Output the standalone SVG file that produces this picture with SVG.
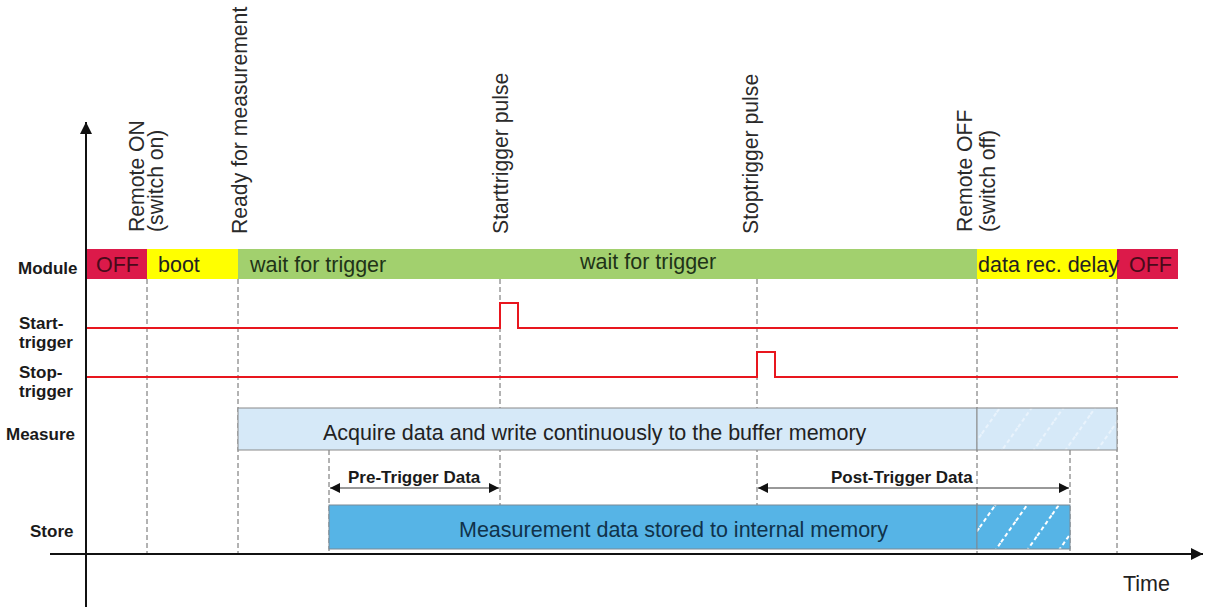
<svg xmlns="http://www.w3.org/2000/svg" width="1205" height="607" viewBox="0 0 1205 607">
<style>
.lbl{font-family:"Liberation Sans",Arial,sans-serif;font-size:17px;font-weight:bold;fill:#1a1a1a}
.t{font-family:"Liberation Sans",Arial,sans-serif;font-size:21.5px;fill:#222}
.rt{font-family:"Liberation Sans",Arial,sans-serif;font-size:21.2px;fill:#2a2a2a}
.dash{stroke:#666;stroke-width:1;stroke-dasharray:5,3;fill:none}
.sig{stroke:#e8161e;stroke-width:2;fill:none}
.axis{stroke:#111;stroke-width:2;fill:none}
.dim{stroke:#333;stroke-width:1;fill:none}
</style>
<defs>
<marker id="ah" viewBox="0 0 10 10" refX="10" refY="5" markerWidth="14" markerHeight="10" markerUnits="userSpaceOnUse" orient="auto-start-reverse"><path d="M0,0 L10,5 L0,10 z" fill="#111"/></marker>
<marker id="axh" viewBox="0 0 10 10" refX="10" refY="5" markerWidth="16" markerHeight="12" markerUnits="userSpaceOnUse" orient="auto"><path d="M0,0 L10,5 L0,10 z" fill="#111"/></marker>
<pattern id="hatchStore" patternUnits="userSpaceOnUse" width="26" height="26" patternTransform="rotate(-55)">
<rect width="26" height="26" fill="#56b4e6"/>
<line x1="0" y1="13" x2="26" y2="13" stroke="#fff" stroke-width="2" stroke-dasharray="4,3"/>
</pattern>
<pattern id="hatchMeas" patternUnits="userSpaceOnUse" width="26" height="26" patternTransform="rotate(-55)">
<rect width="26" height="26" fill="#d6e9f8"/>
<line x1="0" y1="13" x2="26" y2="13" stroke="#e9f3fc" stroke-width="2" stroke-dasharray="4,3"/>
</pattern>
</defs>
<rect width="1205" height="607" fill="#fff"/>

<g id="guides">
<line class="dash" x1="147" y1="279" x2="147" y2="554"/>
<line class="dash" x1="238" y1="279" x2="238" y2="554"/>
<line class="dash" x1="329" y1="450" x2="329" y2="554"/>
<line class="dash" x1="500" y1="279" x2="500" y2="505"/>
<line class="dash" x1="757" y1="279" x2="757" y2="505"/>
<line class="dash" x1="977" y1="279" x2="977" y2="554"/>
<line class="dash" x1="1070" y1="450" x2="1070" y2="554"/>
<line class="dash" x1="1117" y1="279" x2="1117" y2="554"/>
</g>

<g id="row-labels">
<text class="lbl" x="18" y="274">Module</text>
<text class="lbl" x="19" y="329">Start-</text>
<text class="lbl" x="19" y="348">trigger</text>
<text class="lbl" x="19" y="378">Stop-</text>
<text class="lbl" x="19" y="397">trigger</text>
<text class="lbl" x="6" y="440">Measure</text>
<text class="lbl" x="30" y="537">Store</text>
</g>

<g id="event-labels">
<text class="rt" transform="translate(144,232) rotate(-90)">Remote ON</text>
<text class="rt" transform="translate(163,232) rotate(-90)">(switch on)</text>
<text class="rt" transform="translate(247,234) rotate(-90)">Ready for measurement</text>
<text class="rt" transform="translate(508,234) rotate(-90)">Starttrigger pulse</text>
<text class="rt" transform="translate(758,234) rotate(-90)">Stoptrigger pulse</text>
<text class="rt" transform="translate(972,232) rotate(-90)">Remote OFF</text>
<text class="rt" transform="translate(995,232) rotate(-90)">(switch off)</text>
</g>

<g id="module">
<rect x="87" y="249" width="60" height="30" fill="#dc1a4a"/>
<rect x="147" y="249" width="91" height="30" fill="#ffff00"/>
<rect x="238" y="249" width="739" height="30" fill="#a2d06e"/>
<rect x="977" y="249" width="140" height="30" fill="#ffff00"/>
<rect x="1117" y="249" width="61" height="30" fill="#dc1a4a"/>
<text class="t" x="96" y="272" style="fill:#4a0a1a">OFF</text>
<text class="t" x="158" y="272">boot</text>
<text class="t" x="250" y="272" style="fill:#1f3318">wait for trigger</text>
<text class="t" x="580" y="269" style="fill:#1f3318">wait for trigger</text>
<text class="t" x="978" y="272">data rec. delay</text>
<text class="t" x="1129" y="272" style="fill:#4a0a1a">OFF</text>
</g>

<g id="starttrigger">
<path class="sig" d="M86,328 H500 V303 H518 V328 H1178"/>
</g>
<g id="stoptrigger">
<path class="sig" d="M86,377 H757 V352 H775 V377 H1178"/>
</g>

<g id="measure">
<rect x="238" y="408" width="739" height="42" fill="#d6e9f8" stroke="#8a8a8a" stroke-width="1"/>
<rect x="977" y="408" width="140" height="42" fill="url(#hatchMeas)" stroke="#8a8a8a" stroke-width="1"/>
<text class="t" x="323" y="440">Acquire data and write continuously to the buffer memory</text>
</g>

<g id="store">
<rect x="329" y="505" width="648" height="44" fill="#56b4e6" stroke="#7a8a96" stroke-width="1"/>
<rect x="977" y="505" width="93" height="44" fill="url(#hatchStore)" stroke="#7a8a96" stroke-width="1"/>
<text class="t" x="459" y="537" style="fill:#10324a">Measurement data stored to internal memory</text>
</g>

<g id="connectors">
<line class="dim" x1="330" y1="488" x2="499" y2="488" marker-start="url(#ah)" marker-end="url(#ah)"/>
<line class="dim" x1="758" y1="488" x2="1069" y2="488" marker-start="url(#ah)" marker-end="url(#ah)"/>
</g>
<g id="dim-labels">
<text class="lbl" x="348" y="483">Pre-Trigger Data</text>
<text class="lbl" x="831" y="483">Post-Trigger Data</text>
</g>

<g id="axes">
<line class="axis" x1="86" y1="607" x2="86" y2="122" marker-end="url(#axh)"/>
<line class="axis" x1="50" y1="554" x2="1203" y2="554" marker-end="url(#axh)"/>
<text class="t" x="1123" y="591">Time</text>
</g>
</svg>
